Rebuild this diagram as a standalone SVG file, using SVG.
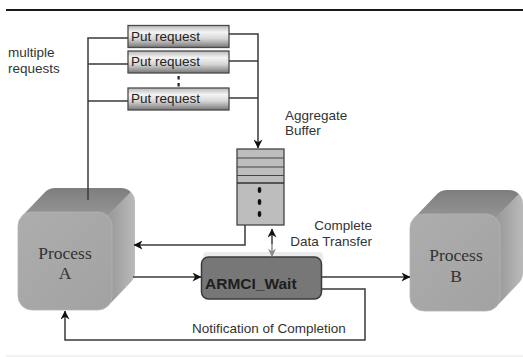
<svg xmlns="http://www.w3.org/2000/svg" width="523" height="357" viewBox="0 0 523 357">
  <defs>
    <linearGradient id="tube" x1="0" y1="0" x2="0" y2="1">
      <stop offset="0" stop-color="#b8b8b8"/>
      <stop offset="0.3" stop-color="#f4f4f4"/>
      <stop offset="0.6" stop-color="#d6d6d6"/>
      <stop offset="1" stop-color="#777"/>
    </linearGradient>
    <linearGradient id="topFace" x1="0" y1="0" x2="0" y2="1">
      <stop offset="0" stop-color="#7e7e7e"/>
      <stop offset="1" stop-color="#959595"/>
    </linearGradient>
    <linearGradient id="sideFace" x1="0" y1="0" x2="1" y2="0">
      <stop offset="0" stop-color="#979797"/>
      <stop offset="1" stop-color="#bababa"/>
    </linearGradient>
    <linearGradient id="frontFace" x1="0" y1="0" x2="1" y2="1">
      <stop offset="0" stop-color="#adadad"/>
      <stop offset="1" stop-color="#a2a2a2"/>
    </linearGradient>
    <marker id="arrow" viewBox="0 0 10 10" refX="9.5" refY="5" markerWidth="9" markerHeight="9" markerUnits="userSpaceOnUse" orient="auto-start-reverse">
      <path d="M0,0 L10,5 L0,10 L3,5 Z" fill="#111"/>
    </marker>
    <marker id="arrowGray" viewBox="0 0 10 10" refX="9.5" refY="5" markerWidth="8" markerHeight="8" markerUnits="userSpaceOnUse" orient="auto">
      <path d="M0,0 L10,5 L0,10 L3,5 Z" fill="#8a8a8a"/>
    </marker>
  </defs>
  <style>
    .lbl { font-family: "Liberation Sans", Arial, sans-serif; font-size: 13.5px; fill: #333; }
    .put { font-family: "Liberation Sans", Arial, sans-serif; font-size: 13.5px; fill: #222; }
    .proc { font-family: "Liberation Serif", "Times New Roman", serif; font-size: 17.5px; fill: #333; text-anchor: middle; }
    .wire { fill: none; stroke: #3a3a3a; stroke-width: 1.5; }
    .req { fill: url(#tube); stroke: #4a4a4a; stroke-width: 1.3; }
    .edge { stroke: #9a9a9a; stroke-width: 0.6; }
  </style>

  <!-- page rules -->
  <line x1="6" y1="10" x2="523" y2="10" stroke="#1a1a1a" stroke-width="2.2"/>
  <line x1="6" y1="356" x2="523" y2="356" stroke="#e2e2e2" stroke-width="1"/>

  <!-- free labels -->
  <text class="lbl" x="8" y="57">multiple</text>
  <text class="lbl" x="8" y="73">requests</text>
  <text class="lbl" x="285" y="119.5">Aggregate</text>
  <text class="lbl" x="285" y="135">Buffer</text>
  <text class="lbl" x="372" y="230" text-anchor="end">Complete</text>
  <text class="lbl" x="372" y="245.5" text-anchor="end">Data Transfer</text>
  <text class="lbl" x="192" y="333">Notification of Completion</text>

  <!-- put requests -->
  <g id="put1">
    <rect class="req" x="128" y="25.5" width="101" height="22"/>
    <text class="put" x="131" y="40.5">Put request</text>
  </g>
  <g id="put2">
    <rect class="req" x="128" y="51" width="101" height="22"/>
    <text class="put" x="131" y="66">Put request</text>
  </g>
  <g id="put3">
    <rect class="req" x="128" y="88" width="101" height="22"/>
    <text class="put" x="131" y="103">Put request</text>
  </g>
  <g id="ellipsis" fill="#222">
    <rect x="177.5" y="76" width="2.2" height="3.5"/>
    <rect x="177.5" y="83" width="2.2" height="3.5"/>
  </g>

  <!-- aggregate buffer -->
  <g id="buffer">
    <rect x="237" y="149" width="47" height="76" fill="#bdbdbd" stroke="#444" stroke-width="1.3"/>
    <path d="M237,158 H284 M237,167 H284 M237,175.5 H284" stroke="#444" stroke-width="1.2"/>
    <path d="M237,183 H284" stroke="#333" stroke-width="1.6"/>
    <ellipse cx="259.5" cy="190" rx="1.8" ry="3" fill="#111"/>
    <ellipse cx="259.5" cy="202" rx="1.8" ry="3" fill="#111"/>
    <ellipse cx="259.5" cy="214" rx="1.8" ry="3" fill="#111"/>
  </g>

  <!-- ARMCI_Wait -->
  <g id="armci">
    <rect x="203" y="252" width="120" height="10" rx="4" fill="#ebebeb"/>
    <rect x="201.5" y="257" width="120" height="42" rx="7" fill="#777" stroke="#3a3a3a" stroke-width="1.5"/>
    <text x="205" y="288.5" font-family="'Liberation Sans', Arial, sans-serif" font-size="15.5" font-weight="bold" fill="#1e1e1e">ARMCI_Wait</text>
  </g>

  <!-- Process A -->
  <g id="processA">
    <path d="M22.1,216.1 L45.1,192.1 A14,14 0 0 1 55,188 L121,188 A14,14 0 0 1 130.9,192.1 L107.9,216.1 Z" fill="url(#topFace)"/>
    <path d="M107.9,216.1 L130.9,192.1 A14,14 0 0 1 135,202 L135,272 A14,14 0 0 1 130.9,281.9 L107.9,305.9 Z" fill="url(#sideFace)"/>
    <line class="edge" x1="107.9" y1="216.1" x2="130.9" y2="192.1"/>
    <rect x="18" y="212" width="94" height="98" rx="14" fill="url(#frontFace)" stroke="#b4b4b4" stroke-width="0.8"/>
    <text class="proc" x="65" y="258.5">Process</text>
    <text class="proc" x="65" y="279">A</text>
  </g>

  <!-- Process B -->
  <g id="processB">
    <path d="M414.1,218.1 L437.1,194.1 A14,14 0 0 1 447,190 L509,190 A14,14 0 0 1 518.9,194.1 L495.9,218.1 Z" fill="url(#topFace)"/>
    <path d="M495.9,218.1 L518.9,194.1 A14,14 0 0 1 523,204 L523,273 A14,14 0 0 1 518.9,282.9 L495.9,306.9 Z" fill="url(#sideFace)"/>
    <line class="edge" x1="495.9" y1="218.1" x2="518.9" y2="194.1"/>
    <rect x="410" y="214" width="90" height="97" rx="14" fill="url(#frontFace)" stroke="#b4b4b4" stroke-width="0.8"/>
    <text class="proc" x="456" y="261">Process</text>
    <text class="proc" x="456" y="281.5">B</text>
  </g>

  <!-- connectors -->
  <g id="connectors">
    <path class="wire" d="M88,200 V38 H128 M88,64 H128 M88,101 H128"/>
    <path class="wire" d="M229,61 H258 M229,98 H258"/>
    <path class="wire" d="M229,34 H258 V148" marker-end="url(#arrow)"/>
    <path class="wire" d="M245,225 V245 H134" marker-end="url(#arrow)"/>
    <path class="wire" d="M272,244 V229" marker-end="url(#arrow)"/>
    <path d="M272,244 V256.5" fill="none" stroke="#7a7a7a" stroke-width="1.3" marker-end="url(#arrowGray)"/>
    <path class="wire" d="M133,277 H201" marker-end="url(#arrow)"/>
    <path class="wire" d="M322,277 H410" marker-end="url(#arrow)"/>
    <path class="wire" d="M322,289 H365 V340 H65 V311" marker-end="url(#arrow)"/>
  </g>
</svg>
